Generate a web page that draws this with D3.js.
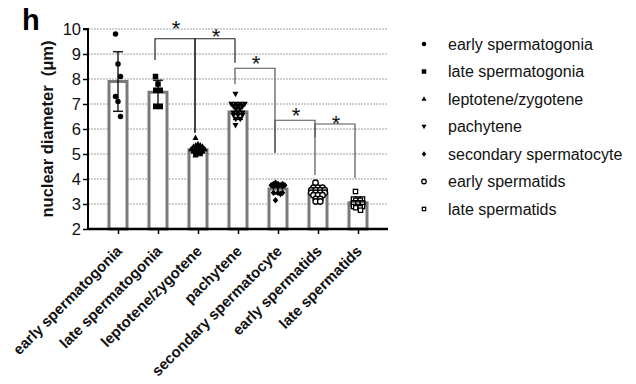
<!DOCTYPE html>
<html><head><meta charset="utf-8">
<script src="https://cdn.jsdelivr.net/npm/d3@7/dist/d3.min.js"></script>
<style>body{margin:0;background:#fff}svg{display:block}text{font-family:"Liberation Sans",Arial,sans-serif}</style>
</head><body><svg id="c" width="636" height="384"></svg>
<script>
const categories = ["early spermatogonia","late spermatogonia","leptotene/zygotene","pachytene","secondary spermatocyte","early spermatids","late spermatids"];
const symbols = ["circle","square","triangle","triangleDown","diamond","openCircle","openSquare"];
const means = [7.9, 7.47, 5.17, 6.68, 3.6, 3.43, 3.05];
const sds = [1.19, 0.48, 0.14, 0.3, 0.2, 0.2, 0.17];
const points = [
  [9.8, 8.6, 8.1, 7.3, 7.1, 6.5],
  [8.1, 7.8, 7.55, 7.55, 6.9, 6.9],
  [5.65, 5.4, 5.35, 5.35, 5.3, 5.3, 5.3, 5.25, 5.25, 5.25, 5.2, 5.2, 5.2, 5.2, 5.15, 5.15, 5.15, 5.1, 5.1, 5.1, 5.05, 5.05, 5.0, 5.0, 4.95],
  [7.4, 7.0, 7.0, 7.0, 7.0, 6.9, 6.9, 6.9, 6.8, 6.8, 6.65, 6.65, 6.65, 6.55, 6.55, 6.55, 6.4, 6.4, 6.15],
  [3.85, 3.8, 3.8, 3.8, 3.75, 3.75, 3.75, 3.75, 3.7, 3.7, 3.7, 3.45, 3.45, 3.45, 3.4, 3.15],
  [3.85, 3.65, 3.65, 3.65, 3.55, 3.55, 3.55, 3.55, 3.45, 3.45, 3.45, 3.45, 3.35, 3.35, 3.35, 3.2, 3.2, 3.1, 3.1],
  [3.5, 3.2, 3.2, 3.2, 3.15, 3.15, 3.05, 3.05, 3.05, 3.0, 3.0, 3.0, 2.9, 2.9, 2.9, 2.85, 2.85, 2.75]
];
const yTicks = [2,3,4,5,6,7,8,9,10];
// brackets: [from, to, bar level, left end, right end, star level]
const brackets = [
  [1, 2, 9.61, 8.76, 5.85, 10.2],
  [2, 3, 9.61, 5.85, 8.65, 9.89],
  [3, 4, 8.43, 7.79, 5.05, 8.79],
  [4, 5, 6.35, 5.05, 4.16, 6.72],
  [5, 6, 6.2, 5.67, 4.03, 6.41]
];

const svg = d3.select("#c");
const L = 88, R = 388, T = 29, B = 229;
const x = d3.scalePoint().domain(categories).range([L, R]).padding(0.75);
const y = d3.scaleLinear().domain([2, 10]).range([B, T]);

// gridlines
svg.append("g").selectAll("line").data(yTicks.slice(1)).join("line")
  .attr("x1", L).attr("x2", R).attr("y1", d => y(d)).attr("y2", d => y(d))
  .attr("stroke", "#a0a0a0").attr("stroke-width", 1).attr("stroke-dasharray", "2,1");

// bars
const bw = 18;
svg.append("g").selectAll("rect").data(means).join("rect")
  .attr("x", (d,i) => x(categories[i]) - bw/2).attr("width", bw)
  .attr("y", d => y(d)).attr("height", d => B - y(d))
  .attr("fill", "#fff").attr("stroke", "#7a7a7a").attr("stroke-width", 3);

// error bars
const eg = svg.append("g").attr("stroke", "#000").attr("stroke-width", 1.3);
means.forEach((m, i) => {
  const cx = x(categories[i]);
  eg.append("line").attr("x1", cx).attr("x2", cx).attr("y1", y(m + sds[i])).attr("y2", y(m - sds[i]));
  eg.append("line").attr("x1", cx - 5).attr("x2", cx + 5).attr("y1", y(m + sds[i])).attr("y2", y(m + sds[i]));
  eg.append("line").attr("x1", cx - 5).attr("x2", cx + 5).attr("y1", y(m - sds[i])).attr("y2", y(m - sds[i]));
});

function drawSymbol(g, type, cx, cy, s) {
  if (type === "circle") g.append("circle").attr("cx", cx).attr("cy", cy).attr("r", s*0.5).attr("fill", "#000");
  else if (type === "openCircle") g.append("circle").attr("cx", cx).attr("cy", cy).attr("r", s*0.5).attr("fill", "#fff").attr("stroke", "#000").attr("stroke-width", 1.3);
  else if (type === "square") g.append("rect").attr("x", cx - s/2).attr("y", cy - s/2).attr("width", s).attr("height", s).attr("fill", "#000");
  else if (type === "openSquare") g.append("rect").attr("x", cx - s/2 + 0.6).attr("y", cy - s/2 + 0.6).attr("width", s - 1.2).attr("height", s - 1.2).attr("fill", "#fff").attr("stroke", "#000").attr("stroke-width", 1.3);
  else if (type === "triangle") g.append("path").attr("d", `M${cx},${cy - s*0.6}L${cx + s*0.55},${cy + s*0.4}L${cx - s*0.55},${cy + s*0.4}Z`).attr("fill", "#000");
  else if (type === "triangleDown") g.append("path").attr("d", `M${cx},${cy + s*0.6}L${cx + s*0.55},${cy - s*0.4}L${cx - s*0.55},${cy - s*0.4}Z`).attr("fill", "#000");
  else if (type === "diamond") g.append("path").attr("d", `M${cx},${cy - s*0.6}L${cx + s*0.5},${cy}L${cx},${cy + s*0.6}L${cx - s*0.5},${cy}Z`).attr("fill", "#000");
}

// points (deterministic horizontal spread for equal values)
const pg = svg.append("g");
points.forEach((arr, i) => {
  const cx = x(categories[i]);
  const groups = d3.group(arr.map((v, k) => ({v, k})), d => d.v);
  groups.forEach(list => {
    const n = list.length;
    list.forEach((p, j) => {
      const off = n === 1 ? ((p.k % 3) - 1) * 2.5 : (j - (n - 1) / 2) * 4.5;
      drawSymbol(pg, symbols[i], cx + off, y(p.v), 5.5);
    });
  });
});

// axes
const yAxis = d3.axisLeft(y).tickValues(yTicks).tickSize(5).tickPadding(2).tickFormat(d3.format("d"));
const ya = svg.append("g").attr("transform", `translate(${L},0)`).call(yAxis);
ya.select(".domain").attr("stroke-width", 2).attr("d", `M-5,${T}H0V${B}`);
ya.selectAll(".tick line").attr("stroke-width", 1.5);
ya.selectAll(".tick text").attr("font-size", 16.5).attr("fill", "#111").attr("font-family", "Liberation Sans, Arial");

const xAxis = d3.axisBottom(x).tickSize(5).tickFormat("");
const xa = svg.append("g").attr("transform", `translate(0,${B})`).call(xAxis);
xa.select(".domain").attr("stroke-width", 2.5).attr("d", `M${L},0H${R}`);
xa.selectAll(".tick line").attr("stroke-width", 1.5);

// x labels
svg.append("g").selectAll("text").data(categories).join("text")
  .attr("transform", d => `translate(${x(d) + 5},${252}) rotate(-45)`)
  .attr("text-anchor", "end").attr("font-size", 15).attr("font-weight", "bold").attr("fill", "#111")
  .text(d => d);

// y label
svg.append("text").attr("transform", `translate(53,${(T + B) / 2}) rotate(-90)`)
  .attr("text-anchor", "middle").attr("font-size", 16.5).attr("font-weight", "bold").attr("fill", "#111")
  .attr("xml:space", "preserve").text("nuclear diameter  (μm)");

// panel letter
svg.append("text").attr("x", 22).attr("y", 30).attr("font-size", 29).attr("font-weight", "bold").attr("fill", "#000").text("h");

// brackets
const bg = svg.append("g");
brackets.forEach(([a, b, lv, le, re, sv], k) => {
  const x1 = x(categories[a]) - 3, x2 = x(categories[b]) - 3;
  bg.append("path").attr("d", `M${x1},${y(le)}V${y(lv)}H${x2}V${y(re)}`)
    .attr("fill", "none").attr("stroke", k < 2 ? "#222" : "#555").attr("stroke-width", 1.2);
  bg.append("text").attr("x", (x1 + x2) / 2 + 1).attr("y", y(sv) + 12).attr("text-anchor", "middle")
    .attr("font-size", 22).attr("fill", "#111").text("*");
});

// legend
const lg = svg.append("g");
categories.forEach((c, i) => {
  const cy = 44 + i * 27.5;
  drawSymbol(lg, symbols[i], 424, cy, 4.5);
  lg.append("text").attr("x", 448).attr("y", cy).attr("dy", "0.35em").attr("font-size", 16).attr("fill", "#111").text(c);
});
</script></body></html>
